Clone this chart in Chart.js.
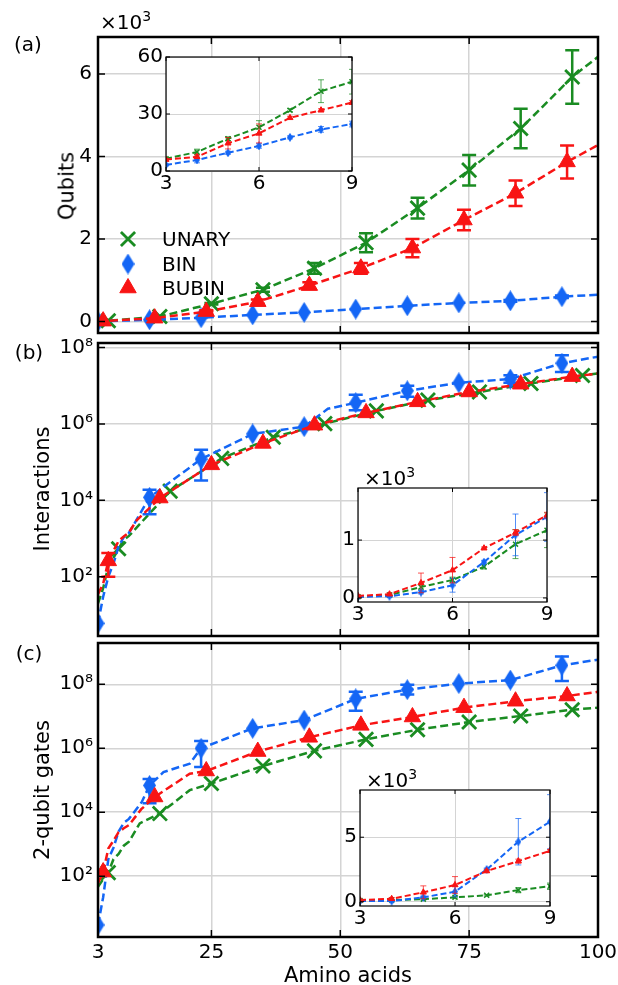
<!DOCTYPE html>
<html>
<head>
<meta charset="utf-8">
<script src="https://cdn.jsdelivr.net/npm/chart.js@4.4.0/dist/chart.umd.min.js"></script>
<style>
  body { margin: 0; background: #fff; }
  #wrap { position: relative; width: 618px; height: 985px; overflow: hidden; font-family: 'DejaVu Sans', sans-serif; color: #000; }
  #wrap canvas { position: absolute; }
  .lbl { position: absolute; font-size: 20px; line-height: 1; white-space: nowrap; transform: translate(-50%, -50%); }
  .left { transform: translate(0, -50%); }
  .rot { transform: translate(-50%, -50%) rotate(-90deg); font-size: 21px; }
  .exp { font-size: 14px; position: relative; top: -8px; }
</style>
</head>
<body>
<div id="wrap">
  <canvas id="chartA" width="618" height="345" style="left:0;top:0"></canvas>
  <canvas id="chartB" width="618" height="315" style="left:0;top:330px"></canvas>
  <canvas id="chartC" width="618" height="355" style="left:0;top:630px"></canvas>
  <canvas id="insetA" width="246" height="150" style="left:116px;top:47px"></canvas>
  <canvas id="insetB" width="249" height="150" style="left:308px;top:478px"></canvas>
  <canvas id="insetC" width="250" height="152" style="left:310px;top:780px"></canvas>

  <div class="lbl" style="left:28px;top:44px">(a)</div>
  <div class="lbl" style="left:29px;top:352px">(b)</div>
  <div class="lbl" style="left:29px;top:653px">(c)</div>
  <div class="lbl left" style="left:100px;top:22px">×10<span class="exp">3</span></div>
  <div class="lbl left" style="left:364px;top:478px">×10<span class="exp">3</span></div>
  <div class="lbl left" style="left:366px;top:780px">×10<span class="exp">3</span></div>
  <div class="lbl rot" style="left:67px;top:186px">Qubits</div>
  <div class="lbl rot" style="left:42px;top:489px">Interactions</div>
  <div class="lbl rot" style="left:42px;top:790px">2-qubit gates</div>
  <div class="lbl" style="left:348px;top:975px;font-size:21px">Amino acids</div>
  <div class="lbl left" style="left:162px;top:239px">UNARY</div>
  <div class="lbl left" style="left:162px;top:264px">BIN</div>
  <div class="lbl left" style="left:162px;top:288px">BUBIN</div>
</div>
<script>
// ticks
const mainXTicks = [3, 25, 50, 75, 100];
const qubitTicks = [0, 2, 4, 6];
const logTicks = [1e2, 1e4, 1e6, 1e8];
const logTickLabels = ['10²', '10⁴', '10⁶', '10⁸'];
const insetX = [3, 4, 5, 6, 7, 8, 9];
const insetXTicks = [3, 6, 9];
const insetATicks = [0, 30, 60];
const insetBTicks = [0, 1];
const insetCTicks = [0, 5];

// (a) qubits, x10^3   (err: null = line point only, 0 = marker without bar)
const aUnaryX = [3, 5, 15, 25, 35, 45, 55, 65, 75, 85, 95, 100];
const aUnaryY = [0.006, 0.017, 0.12, 0.43, 0.77, 1.29, 1.91, 2.75, 3.67, 4.68, 5.93, 6.42];
const aUnaryErr = [null, 0, 0, 0.02, 0.05, 0.13, 0.23, 0.25, 0.37, 0.48, 0.65, null];
const aBinX = [3, 13, 23, 33, 43, 53, 63, 73, 83, 93, 100];
const aBinY = [0.003, 0.04, 0.09, 0.16, 0.22, 0.3, 0.38, 0.45, 0.5, 0.6, 0.65];
const aBinErr = [0, 0, 0, 0, 0, 0, 0, 0, 0.02, 0.03, null];
const aBubinX = [3, 4, 14, 24, 34, 44, 54, 64, 74, 84, 94, 100];
const aBubinY = [0.006, 0.008, 0.08, 0.24, 0.48, 0.87, 1.29, 1.78, 2.46, 3.11, 3.87, 4.28];
const aBubinErr = [null, 0, 0, 0.03, 0.05, 0.08, 0.13, 0.22, 0.25, 0.31, 0.4, null];

// (a) inset, qubits
const iaUnary = [6.5, 10, 17, 23, 32, 42, 47];
const iaUnaryErr = [0.5, 1.5, 1, 3.5, 0.8, 6, 6.5];
const iaBin = [3.2, 5.8, 9.6, 13.2, 17.7, 21.9, 24.7];
const iaBinErr = [0.5, 1.5, 0.8, 1.2, 0.8, 1.5, 1.5];
const iaBubin = [6, 7.5, 14.6, 19.8, 28, 32, 36];
const iaBubinErr = [0.5, 1, 3, 5, 0.8, 0.8, 1];

// (b) interactions
const bUnaryX = [3, 4, 5, 6, 7, 8, 9, 17, 27, 37, 47, 57, 67, 77, 87, 97, 100];
const bUnaryY = [20, 50, 190, 310, 540, 930, 1170, 1.74e4, 1.26e5, 4.5e5, 1.02e6, 2.2e6, 4.2e6, 6.9e6, 1.15e7, 1.86e7, 2.1e7];
const bUnaryErr = [null, null, null, null, 0, null, null, 0, 0, 0, 0, 0, 0, 0, 0, 0, null];
const bBinX = [3, 4, 5, 6, 7, 8, 9, 13, 23, 33, 43, 47.6, 53, 63, 73, 83, 93, 100];
const bBinY = [6, 30, 100, 220, 620, 1090, 1400, 1.2e4, 1.2e5, 5.5e5, 8.5e5, 2.5e6, 3.6e6, 7.4e6, 1.2e7, 1.5e7, 3.9e7, 5.8e7];
const bBinErr = [0, null, null, null, null, null, null, [4.3e3, 1.9e4], [3.3e4, 2.1e5], 0, 0, null, [2.3e6, 5.8e6], [5.2e6, 1.0e7], 0, [1.2e7, 1.9e7], [2.3e7, 6.3e7], null];
const bBubinX = [3, 4, 5, 6, 7, 8, 9, 10.5, 15, 25, 35, 45, 55, 65, 75, 85, 95, 100];
const bBubinY = [35, 65, 260, 480, 860, 1130, 1430, 3000, 1.15e4, 8.5e4, 3.1e5, 9.3e5, 1.95e6, 3.8e6, 6.9e6, 1.1e7, 1.74e7, 2.1e7];
const bBubinErr = [null, null, [100, 420], null, null, null, null, null, 0, 0, 0, 0, 0, 0, 0, 0, 0, null];

// (b) inset, interactions x10^3
const ibUnary = [0.02, 0.05, 0.19, 0.31, 0.54, 0.93, 1.17];
const ibUnaryErr = [0.005, 0.01, 0.05, 0.05, 0.04, 0.25, 0.3];
const ibBin = [0.02, 0.03, 0.1, 0.22, 0.62, 1.09, 1.4];
const ibBinErr = [0.005, 0.01, 0.03, 0.12, 0.03, 0.36, 0.42];
const ibBubin = [0.035, 0.065, 0.26, 0.48, 0.86, 1.13, 1.43];
const ibBubinErr = [0.01, 0.02, 0.17, 0.22, 0.02, 0.05, 0.05];

// (c) 2-qubit gates
const cUnaryX = [3, 4, 5, 6, 7, 8, 9, 11.1, 15, 20.8, 25, 35, 45, 55, 65, 75, 85, 95, 100];
const cUnaryY = [47, 80, 130, 340, 500, 900, 1200, 4500, 9100, 4.9e4, 7.9e4, 2.8e5, 8.3e5, 1.9e6, 3.8e6, 6.6e6, 1.02e7, 1.6e7, 1.86e7];
const cUnaryErr = [null, null, 0, null, null, null, null, null, 0, null, 0, 0, 0, 0, 0, 0, 0, 0, null];
const cBinX = [3, 4, 5, 6, 7, 8, 9, 10, 11.5, 13, 15.7, 20.8, 23, 33, 43, 53, 63, 73, 83, 93, 100];
const cBinY = [3, 22, 340, 780, 2500, 4650, 6200, 1.0e4, 2.1e4, 6.9e4, 1.8e5, 3.3e5, 1.0e6, 4.2e6, 7.6e6, 3.5e7, 6.8e7, 1.05e8, 1.35e8, 3.9e8, 5.9e8];
const cBinErr = [0, null, null, null, null, null, null, null, null, [1.9e4, 1.1e5], null, null, [2.6e5, 1.7e6], 0, 0, [1.5e7, 5.8e7], [4.8e7, 9.6e7], 0, 0, [1.26e8, 7.4e8], null];
const cBubinX = [3, 4, 5, 6, 7, 8, 9, 11.4, 14, 20.8, 24, 34, 44, 54, 64, 74, 84, 94, 100];
const cBubinY = [60, 135, 730, 1300, 2380, 3150, 3950, 1.25e4, 3.0e4, 1.6e5, 1.95e5, 7.9e5, 2.2e6, 5.2e6, 9.5e6, 1.86e7, 2.95e7, 4.3e7, 5.8e7];
const cBubinErr = [null, 0, null, null, null, null, null, null, 0, null, 0, 0, 0, 0, 0, 0, 0, 0, null];

// (c) inset, gates x10^3
const icUnary = [0.1, 0.13, 0.2, 0.34, 0.5, 0.9, 1.2];
const icUnaryErr = [0.02, 0.02, 0.05, 0.05, 0.05, 0.2, 0.25];
const icBin = [0.05, 0.05, 0.34, 0.78, 2.5, 4.65, 6.2];
const icBinErr = [0.02, 0.02, 0.1, 0.4, 0.1, 1.8, 2.1];
const icBubin = [0.13, 0.23, 0.73, 1.3, 2.38, 3.15, 3.95];
const icBubinErr = [0.05, 0.1, 0.5, 0.65, 0.1, 0.15, 0.1];

const GREEN = '#1a8c22';
const BLUE = '#1466f5';
const RED = '#f81414';
const GRID = '#d4d4d4';

Chart.defaults.font.family = "'DejaVu Sans', sans-serif";
Chart.defaults.font.size = 20;
Chart.defaults.color = '#000';

function thinDiamond(w, h, color) {
    const c = document.createElement('canvas');
    c.width = w;
    c.height = h;
    const g = c.getContext('2d');
    g.fillStyle = color;
    g.beginPath();
    g.moveTo(w / 2, 0);
    g.lineTo(w, h / 2);
    g.lineTo(w / 2, h);
    g.lineTo(0, h / 2);
    g.closePath();
    g.fill();
    return c;
}

const styles = {
    unary: { color: GREEN, big: 'crossRot', r: 10, bw: 2.8, small: 'crossRot', rs: 3.5, bws: 1.5, order: 3 },
    bin: { color: BLUE, big: thinDiamond(13, 21, BLUE), r: 8, bw: 1, small: thinDiamond(6, 9, BLUE), rs: 3, bws: 1, order: 2 },
    bubin: { color: RED, big: 'triangle', r: 9.5, bw: 1, small: 'triangle', rs: 3.5, bws: 1, order: 1 }
};

function series(xs, ys, errs, st, big) {
    return {
        data: xs.map((x, i) => ({ x: x, y: ys[i] })),
        errors: errs,
        errWidth: big ? 2.5 : 1,
        errCap: big ? 7 : 3,
        errColor: big ? st.color : st.color + 'bb',
        showLine: true,
        borderColor: st.color,
        borderWidth: big ? 2.5 : 2,
        borderDash: big ? [8, 4] : [6, 3],
        tension: 0,
        fill: false,
        clip: 0,
        order: st.order,
        pointStyle: big ? st.big : st.small,
        pointRadius: (ctx) => errs[ctx.dataIndex] === null ? 0 : (big ? st.r : st.rs),
        pointHoverRadius: (ctx) => errs[ctx.dataIndex] === null ? 0 : (big ? st.r : st.rs),
        pointBackgroundColor: st.color,
        pointBorderColor: st.color,
        pointBorderWidth: big ? st.bw : st.bws
    };
}

const errorBars = {
    id: 'errorBars',
    beforeDatasetDraw(chart, args) {
        const ds = chart.data.datasets[args.index];
        if (!ds.errors) return;
        const { ctx, chartArea: a } = chart;
        const xs = chart.scales.x, ys = chart.scales.y;
        ctx.save();
        ctx.beginPath();
        ctx.rect(a.left, a.top, a.right - a.left, a.bottom - a.top);
        ctx.clip();
        ctx.strokeStyle = ds.errColor;
        ctx.lineWidth = ds.errWidth;
        ctx.setLineDash([]);
        ds.data.forEach((p, i) => {
            const e = ds.errors[i];
            if (e === null || e === 0) return;
            const lo = Array.isArray(e) ? e[0] : p.y - e;
            const hi = Array.isArray(e) ? e[1] : p.y + e;
            const px = xs.getPixelForValue(p.x);
            const y1 = ys.getPixelForValue(lo);
            const y2 = ys.getPixelForValue(hi);
            const c = ds.errCap;
            ctx.beginPath();
            ctx.moveTo(px, y1); ctx.lineTo(px, y2);
            ctx.moveTo(px - c, y1); ctx.lineTo(px + c, y1);
            ctx.moveTo(px - c, y2); ctx.lineTo(px + c, y2);
            ctx.stroke();
        });
        ctx.restore();
    }
};

const frame = {
    id: 'frame',
    beforeDraw(chart, args, opts) {
        if (!opts.white) return;
        const { ctx, chartArea: a } = chart;
        ctx.save();
        ctx.fillStyle = '#fff';
        ctx.fillRect(a.left, a.top, a.right - a.left, a.bottom - a.top);
        ctx.restore();
    },
    afterDraw(chart, args, opts) {
        const { ctx, chartArea: a } = chart;
        const xs = chart.scales.x, ys = chart.scales.y;
        const len = opts.tick || 6;
        ctx.save();
        ctx.strokeStyle = '#000';
        ctx.lineWidth = opts.tickWidth || 1;
        ctx.beginPath();
        ys.ticks.forEach(t => {
            const py = ys.getPixelForValue(t.value);
            ctx.moveTo(a.left, py); ctx.lineTo(a.left + len, py);
            ctx.moveTo(a.right, py); ctx.lineTo(a.right - len, py);
        });
        xs.ticks.forEach(t => {
            const px = xs.getPixelForValue(t.value);
            ctx.moveTo(px, a.top); ctx.lineTo(px, a.top + len);
            ctx.moveTo(px, a.bottom); ctx.lineTo(px, a.bottom - len);
        });
        ctx.stroke();
        ctx.lineWidth = opts.width || 1;
        ctx.strokeRect(a.left, a.top, a.right - a.left, a.bottom - a.top);
        ctx.restore();
    }
};

const legendMarks = {
    id: 'legendMarks',
    afterDraw(chart, args, opts) {
        if (!opts.show) return;
        const ctx = chart.ctx;
        [[styles.unary, 239], [styles.bin, 264], [styles.bubin, 288]].forEach(([st, y]) => {
            ctx.save();
            ctx.fillStyle = st.color;
            ctx.strokeStyle = st.color;
            ctx.lineWidth = st.bw;
            Chart.helpers.drawPoint(ctx, { pointStyle: st.big, radius: st.r, borderWidth: st.bw, rotation: 0 }, 128, y);
            ctx.restore();
        });
    }
};

Chart.register(errorBars, frame, legendMarks);

function fixTicks(values) {
    return (s) => { s.ticks = values.map(v => ({ value: v })); };
}
function noPad(w, h) {
    return (s) => {
        if (w !== undefined) s.width = w;
        if (h !== undefined) s.height = h;
        s.paddingLeft = 0; s.paddingRight = 0; s.paddingTop = 0; s.paddingBottom = 0;
    };
}

function mainChart(id, datasets, yScale, padTop, padBottom, xHeight, showX, legend) {
    return new Chart(document.getElementById(id), {
        type: 'scatter',
        data: { datasets: datasets },
        options: {
            responsive: false,
            animation: false,
            events: [],
            layout: { padding: { left: 0, right: 20, top: padTop, bottom: padBottom } },
            plugins: {
                legend: { display: false },
                tooltip: { enabled: false },
                frame: { width: 2.5, tick: 7, tickWidth: 1.5 },
                legendMarks: { show: legend }
            },
            scales: {
                x: {
                    type: 'linear', min: 3, max: 100,
                    afterBuildTicks: fixTicks(mainXTicks),
                    afterFit: noPad(undefined, xHeight),
                    ticks: { display: showX, padding: 4, font: { size: 20 }, callback: v => String(v), maxRotation: 0 },
                    grid: { color: GRID, lineWidth: 1.5, drawTicks: false },
                    border: { display: false }
                },
                y: Object.assign({
                    afterFit: noPad(98),
                    grid: { color: GRID, lineWidth: 1.5, drawTicks: false },
                    border: { display: false }
                }, yScale)
            }
        }
    });
}

function insetChart(id, datasets, yMin, yMax, yTicks) {
    return new Chart(document.getElementById(id), {
        type: 'scatter',
        data: { datasets: datasets },
        options: {
            responsive: false,
            animation: false,
            events: [],
            layout: { padding: { left: 0, right: 10, top: 10, bottom: 0 } },
            plugins: {
                legend: { display: false },
                tooltip: { enabled: false },
                frame: { width: 1.2, tick: 4, tickWidth: 1, white: true },
                legendMarks: { show: false }
            },
            scales: {
                x: {
                    type: 'linear', min: 3, max: 9,
                    afterBuildTicks: fixTicks(insetXTicks),
                    afterFit: noPad(undefined, 26),
                    ticks: { padding: 1, callback: v => String(v), maxRotation: 0 },
                    grid: { color: GRID, lineWidth: 1, drawTicks: false },
                    border: { display: false }
                },
                y: {
                    type: 'linear', min: yMin, max: yMax,
                    afterBuildTicks: fixTicks(yTicks),
                    afterFit: noPad(50),
                    ticks: { padding: 3, callback: v => String(v) },
                    grid: { color: GRID, lineWidth: 1, drawTicks: false },
                    border: { display: false }
                }
            }
        }
    });
}

mainChart('chartA', [
    series(aBubinX, aBubinY, aBubinErr, styles.bubin, true),
    series(aBinX, aBinY, aBinErr, styles.bin, true),
    series(aUnaryX, aUnaryY, aUnaryErr, styles.unary, true)
], {
    type: 'linear', min: -0.28, max: 6.9,
    afterBuildTicks: fixTicks(qubitTicks),
    ticks: { padding: 6, callback: v => String(v) }
}, 37, 12, 0, false, true);

const logY = (min, max) => ({
    type: 'logarithmic', min: min, max: max,
    afterBuildTicks: fixTicks(logTicks),
    ticks: { padding: 5, callback: v => logTickLabels[logTicks.indexOf(v)] || '' }
});

mainChart('chartB', [
    series(bBubinX, bBubinY, bBubinErr, styles.bubin, true),
    series(bBinX, bBinY, bBinErr, styles.bin, true),
    series(bUnaryX, bUnaryY, bUnaryErr, styles.unary, true)
], logY(2.8, 1.32e8), 13, 9, 0, false, false);

mainChart('chartC', [
    series(cBubinX, cBubinY, cBubinErr, styles.bubin, true),
    series(cBinX, cBinY, cBinErr, styles.bin, true),
    series(cUnaryX, cUnaryY, cUnaryErr, styles.unary, true)
], logY(1.26, 1.95e9), 13, 0, 48, true, false);

insetChart('insetA', [
    series(insetX, iaBubin, iaBubinErr, styles.bubin, false),
    series(insetX, iaBin, iaBinErr, styles.bin, false),
    series(insetX, iaUnary, iaUnaryErr, styles.unary, false)
], 0, 60, insetATicks);

insetChart('insetB', [
    series(insetX, ibBubin, ibBubinErr, styles.bubin, false),
    series(insetX, ibBin, ibBinErr, styles.bin, false),
    series(insetX, ibUnary, ibUnaryErr, styles.unary, false)
], -0.07, 1.9, insetBTicks);

insetChart('insetC', [
    series(insetX, icBubin, icBubinErr, styles.bubin, false),
    series(insetX, icBin, icBinErr, styles.bin, false),
    series(insetX, icUnary, icUnaryErr, styles.unary, false)
], -0.33, 8.66, insetCTicks);
</script>
</body>
</html>
